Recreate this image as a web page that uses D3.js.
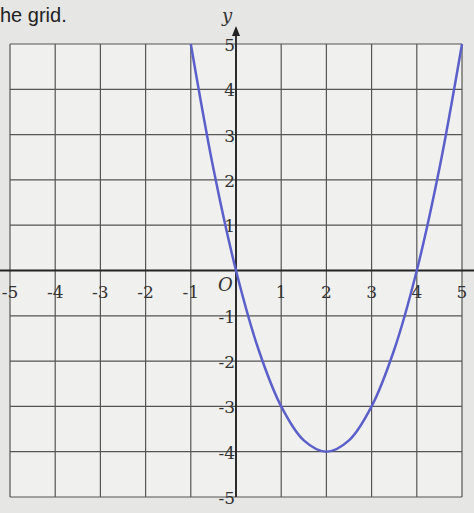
<!DOCTYPE html>
<html><head><meta charset="utf-8">
<script src="https://cdn.jsdelivr.net/npm/d3@7"></script>
<style>body{margin:0;background:#e4e4e2;}</style></head>
<body><svg id="c" width="474" height="513"></svg>
<script>
const xTicks=[-5,-4,-3,-2,-1,1,2,3,4,5];
const yTicks=[-5,-4,-3,-2,-1,1,2,3,4,5];
const curveX=[-1,-0.5,0,0.5,1,1.5,2,2.5,3,3.5,4,4.5,5];
const curveY=[5,2.25,0,-1.75,-3,-3.75,-4,-3.75,-3,-1.75,0,2.25,5];
const svg=d3.select("#c");
const x=d3.scaleLinear().domain([-5,5]).range([10,462]);
const y=d3.scaleLinear().domain([-5,5]).range([497,44]);
svg.append("rect").attr("x",0).attr("y",0).attr("width",474).attr("height",513).attr("fill","#e6e6e4");
svg.append("rect").attr("x",x(-5)).attr("y",y(5)).attr("width",x(5)-x(-5)).attr("height",y(-5)-y(5)).attr("fill","#f0f0ee");
svg.append("text").attr("x",0).attr("y",22).attr("font-family","Liberation Sans").attr("font-size",20).attr("fill","#222").text("he grid.");
const g=svg.append("g").attr("stroke","#555").attr("stroke-width",1.2);
d3.range(-5,5.01,1).forEach(v=>{
 g.append("line").attr("x1",x(v)).attr("x2",x(v)).attr("y1",y(5)).attr("y2",y(-5));
 g.append("line").attr("y1",y(v)).attr("y2",y(v)).attr("x1",x(-5)).attr("x2",x(5));
});
svg.append("line").attr("x1",x(0)).attr("x2",x(0)).attr("y1",y(-5)).attr("y2",28).attr("stroke","#222").attr("stroke-width",1.8);
svg.append("line").attr("x1",0).attr("x2",474).attr("y1",y(0)).attr("y2",y(0)).attr("stroke","#222").attr("stroke-width",1.8);
svg.append("path").attr("d",`M${x(0)-4},${36}L${x(0)},${26}L${x(0)+4},${36}Z`).attr("fill","#222");
svg.append("text").attr("x",x(0)-14).attr("y",22).attr("font-family","DejaVu Serif").attr("font-style","italic").attr("font-size",18).attr("fill","#333").text("y");
svg.append("text").attr("x",x(0)-18).attr("y",y(0)+20).attr("font-family","DejaVu Serif").attr("font-style","italic").attr("font-size",18).attr("fill","#333").text("O");
const tf={"font-family":"DejaVu Serif","font-size":17,"fill":"#333"};
xTicks.forEach(v=>{const t=svg.append("text").attr("x",x(v)).attr("y",y(0)+27).attr("text-anchor","middle").text(v);for(const k in tf)t.attr(k,tf[k]);});
yTicks.forEach(v=>{const t=svg.append("text").attr("x",x(0)-1).attr("y",y(v)+7).attr("text-anchor","end").text(v);for(const k in tf)t.attr(k,tf[k]);});
const line=d3.line().x((d,i)=>x(curveX[i])).y(d=>y(d)).curve(d3.curveCatmullRom);
svg.append("path").datum(curveY).attr("d",line).attr("fill","none").attr("stroke","#5b5fc9").attr("stroke-width",2.5);
</script></body></html>
